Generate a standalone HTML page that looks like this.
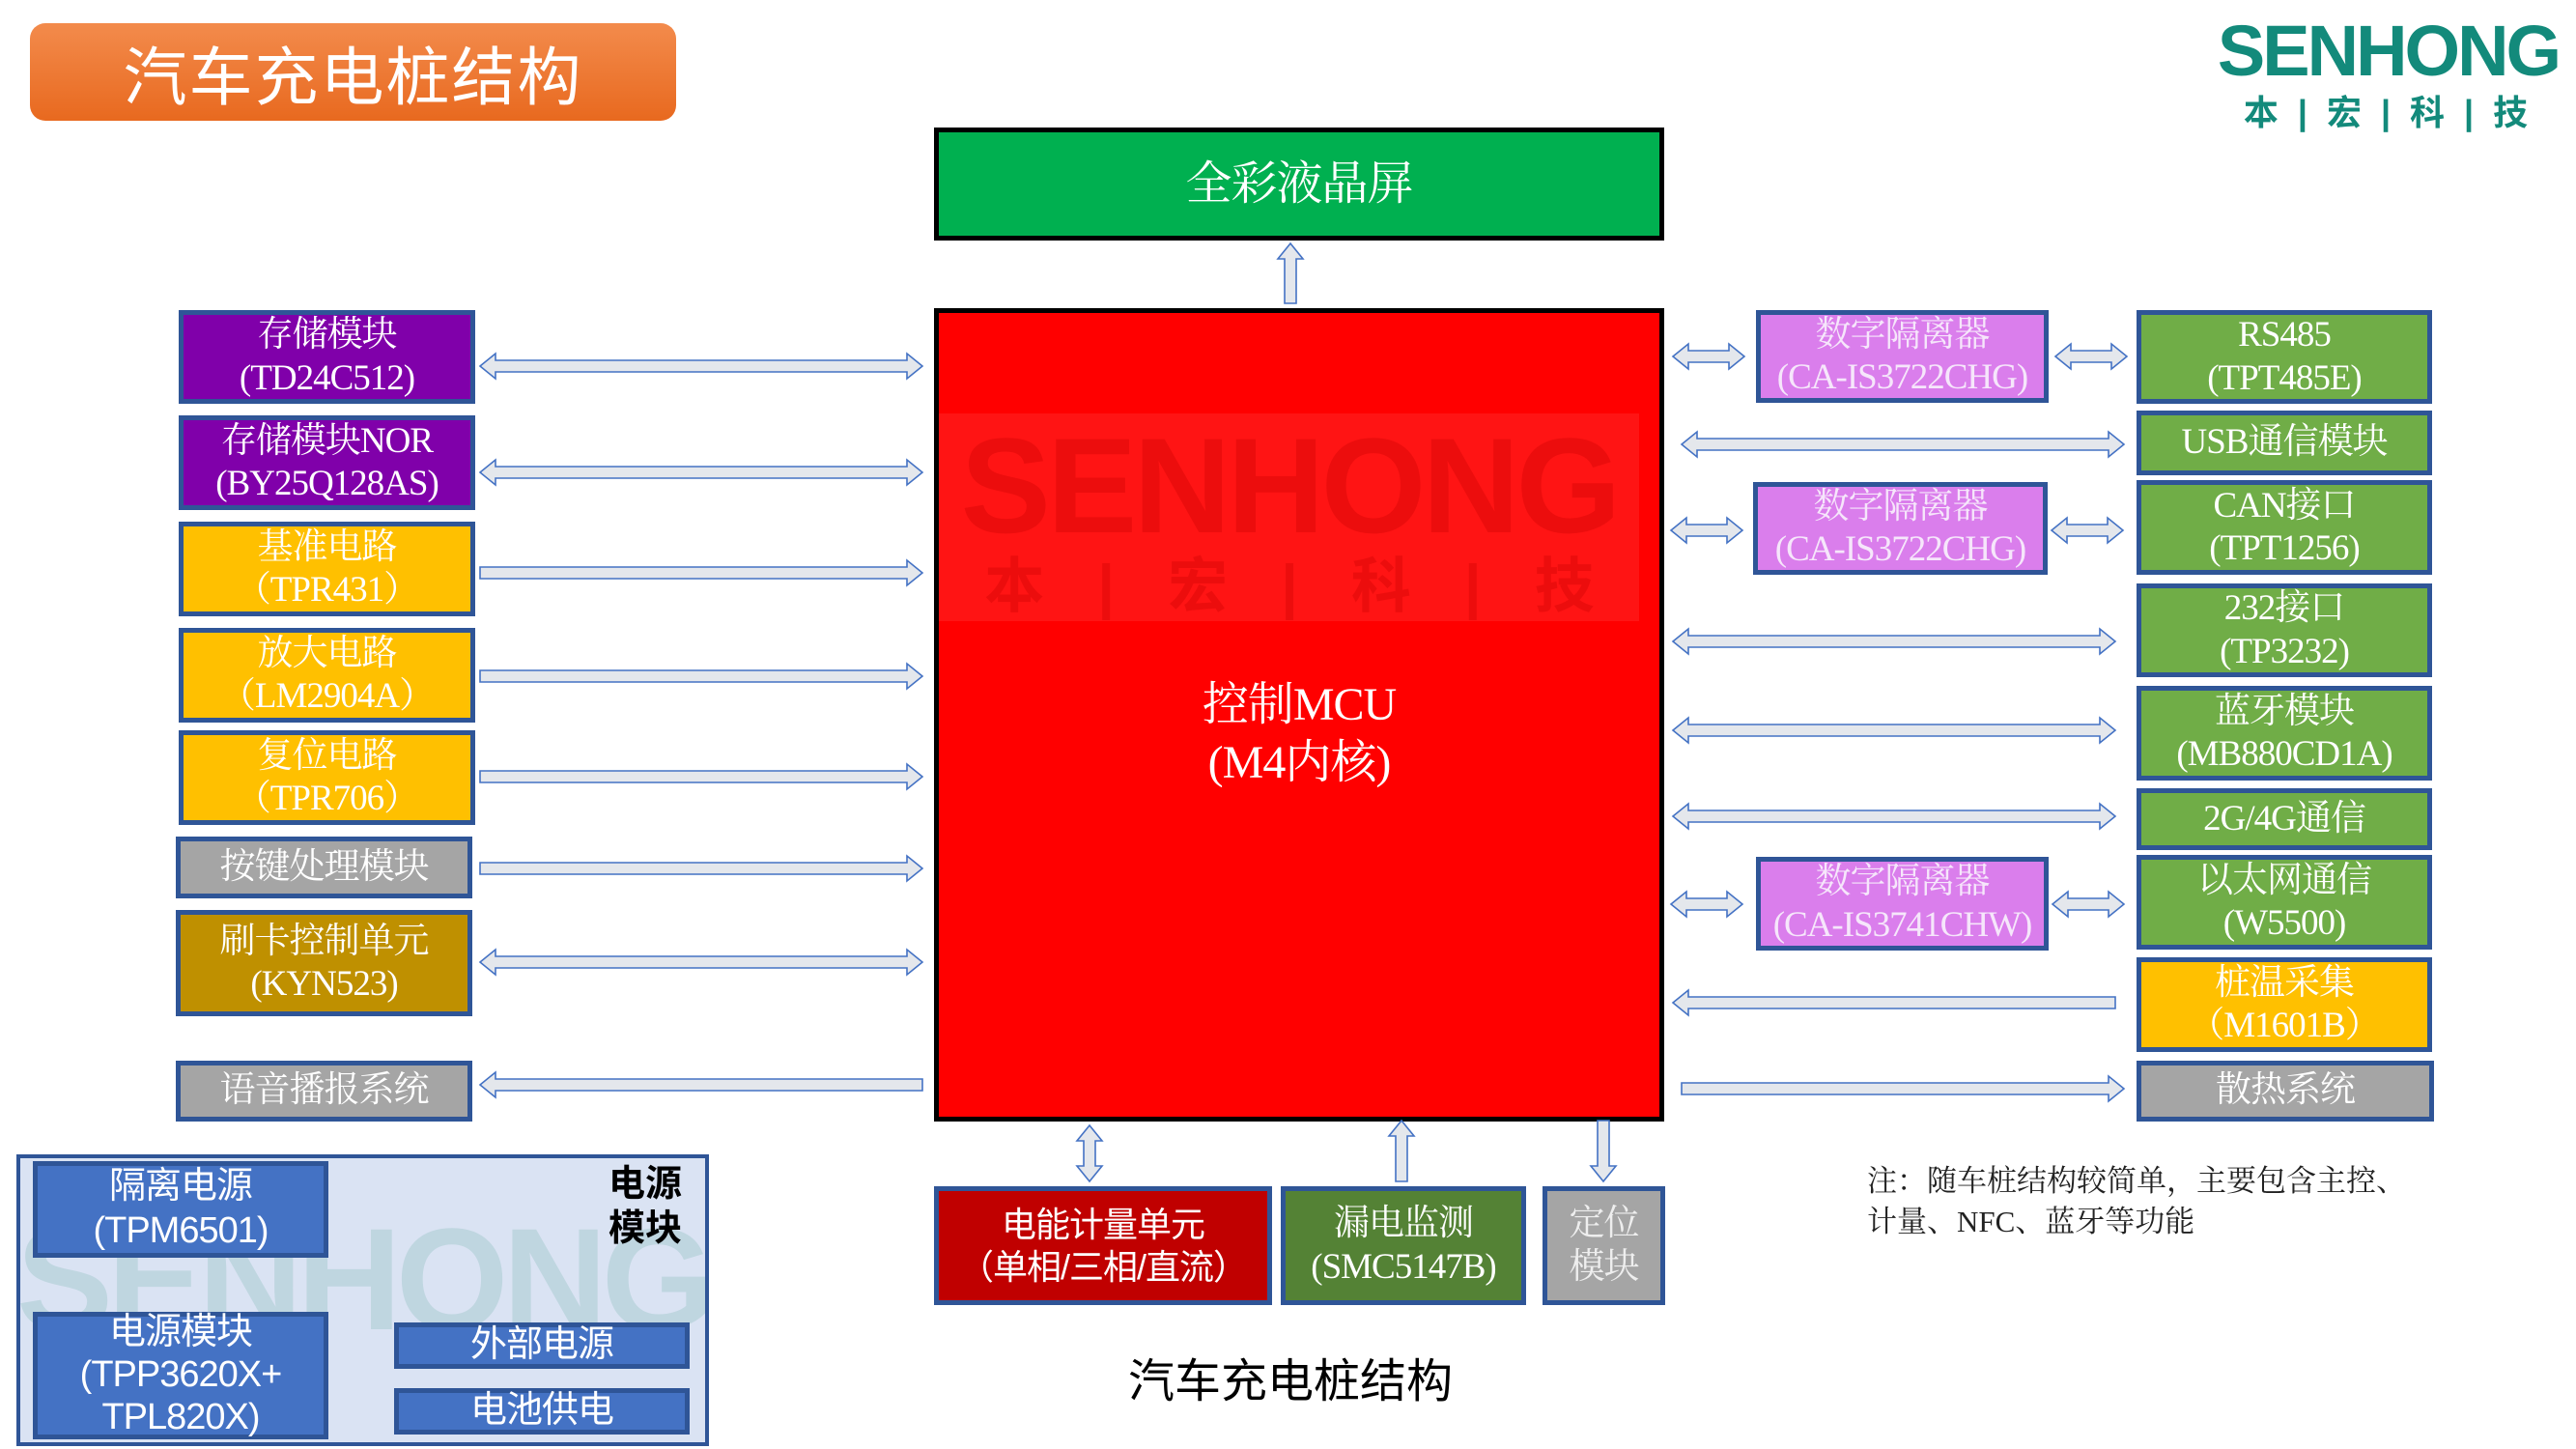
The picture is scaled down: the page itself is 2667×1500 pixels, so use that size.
<!DOCTYPE html>
<html><head><meta charset="utf-8">
<style>
*{margin:0;padding:0;box-sizing:border-box}
body{width:2667px;height:1500px;background:#fff;position:relative;overflow:hidden;font-family:"Liberation Serif","Noto Serif CJK SC",serif}
.b{position:absolute;display:flex;flex-direction:column;align-items:center;justify-content:center;text-align:center;color:#fff;border:5px solid #2F5597;font-size:37px;line-height:1.2;letter-spacing:-1px}
.p{background:#8000AA}
.y{background:#FFC000}
.g{background:#A5A5A5}
.k{background:#BF9000}
.gr{background:#70AD47}
.iso{background:#DA7EEC;color:#f6e6fb}
.bl{background:#4472C4;border-color:#2F5597;font-family:"Liberation Sans","Noto Sans CJK SC",sans-serif}
svg{position:absolute;left:0;top:0}
</style></head><body>
<div style="position:absolute;left:31px;top:24px;width:669px;height:101px;border-radius:16px;background:linear-gradient(#F38B4C,#E8691F);color:#fff;font-size:66px;display:flex;align-items:center;justify-content:center;font-family:'Liberation Sans','Noto Sans CJK SC',sans-serif;letter-spacing:2px">汽车充电桩结构</div>

<div style="position:absolute;left:2290px;top:16px;width:365px;text-align:center;color:#138A7B;font-family:'Liberation Sans','Noto Sans CJK SC',sans-serif;font-weight:bold;font-size:74px;line-height:74px;letter-spacing:-3px">SENHONG</div>
<div style="position:absolute;left:2300px;top:88px;width:340px;text-align:center;color:#138A7B;font-family:'Liberation Sans','Noto Sans CJK SC',sans-serif;font-weight:bold;font-size:36px;word-spacing:10px">本 | 宏 | 科 | 技</div>

<div class="b" style="left:967px;top:132px;width:756px;height:117px;background:#00B050;border-color:#000;font-size:48px">全彩液晶屏</div>

<div class="b" style="left:967px;top:319px;width:756px;height:842px;background:#FF0000;border-color:#000;font-size:48px">
<div style="position:absolute;left:0;top:104px;width:725px;height:215px;background:rgba(255,255,255,0.08);color:rgba(200,0,0,0.35);font-family:'Liberation Sans','Noto Sans CJK SC',sans-serif;font-weight:bold">
<div style="font-size:140px;line-height:150px;letter-spacing:-4px">SENHONG</div>
<div style="font-size:62px;line-height:60px;word-spacing:40px">本 | 宏 | 科 | 技</div></div>
<div style="position:relative;margin-top:40px;line-height:1.25">控制MCU<br>(M4内核)</div></div>

<div class="b p" style="left:185px;top:321px;width:307px;height:97px">存储模块<br>(TD24C512)</div>
<div class="b p" style="left:185px;top:430px;width:307px;height:98px">存储模块NOR<br>(BY25Q128AS)</div>
<div class="b y" style="left:185px;top:540px;width:307px;height:98px">基准电路<br>（TPR431）</div>
<div class="b y" style="left:185px;top:650px;width:307px;height:98px">放大电路<br>（LM2904A）</div>
<div class="b y" style="left:185px;top:756px;width:307px;height:98px">复位电路<br>（TPR706）</div>
<div class="b g" style="left:182px;top:866px;width:307px;height:64px">按键处理模块</div>
<div class="b k" style="left:182px;top:942px;width:307px;height:110px">刷卡控制单元<br>(KYN523)</div>
<div class="b g" style="left:182px;top:1098px;width:307px;height:63px">语音播报系统</div>

<div class="b gr" style="left:2212px;top:321px;width:306px;height:97px">RS485<br>(TPT485E)</div>
<div class="b gr" style="left:2212px;top:425px;width:306px;height:67px">USB通信模块</div>
<div class="b gr" style="left:2212px;top:497px;width:306px;height:98px">CAN接口<br>(TPT1256)</div>
<div class="b gr" style="left:2212px;top:604px;width:306px;height:97px">232接口<br>(TP3232)</div>
<div class="b gr" style="left:2212px;top:710px;width:306px;height:98px">蓝牙模块<br>(MB880CD1A)</div>
<div class="b gr" style="left:2212px;top:816px;width:306px;height:64px">2G/4G通信</div>
<div class="b gr" style="left:2212px;top:885px;width:306px;height:98px">以太网通信<br>(W5500)</div>
<div class="b y" style="left:2212px;top:991px;width:306px;height:98px">桩温采集<br>（M1601B）</div>
<div class="b g" style="left:2212px;top:1098px;width:308px;height:63px">散热系统</div>

<div class="b iso" style="left:1818px;top:321px;width:303px;height:96px">数字隔离器<br>(CA-IS3722CHG)</div>
<div class="b iso" style="left:1815px;top:499px;width:305px;height:96px">数字隔离器<br>(CA-IS3722CHG)</div>
<div class="b iso" style="left:1818px;top:887px;width:303px;height:97px">数字隔离器<br>(CA-IS3741CHW)</div>

<div class="b" style="left:967px;top:1228px;width:350px;height:123px;background:#C00000;font-family:'Liberation Sans','Noto Sans CJK SC',sans-serif;font-size:36px">电能计量单元<br>（单相/三相/直流）</div>
<div class="b" style="left:1326px;top:1228px;width:254px;height:123px;background:#548235">漏电监测<br>(SMC5147B)</div>
<div class="b g" style="left:1597px;top:1228px;width:127px;height:123px;color:#eee">定位<br>模块</div>

<div style="position:absolute;left:1136px;top:1390px;width:400px;text-align:center;font-size:48px;font-family:'Liberation Sans','Noto Sans CJK SC',sans-serif">汽车充电桩结构</div>
<div style="position:absolute;left:1933px;top:1202px;font-size:31px;line-height:42px;color:#222">注：随车桩结构较简单，主要包含主控、<br>计量、NFC、蓝牙等功能</div>

<div style="position:absolute;left:17px;top:1195px;width:717px;height:302px;background:#DAE3F3;border:4px solid #2F5597;overflow:hidden">
<div style="position:absolute;left:-4px;top:50px;width:730px;font-size:150px;line-height:150px;font-weight:bold;color:rgba(140,190,190,0.35);font-family:'Liberation Sans',sans-serif;letter-spacing:-6px;white-space:nowrap">SENHONG</div></div>
<div class="b bl" style="left:34px;top:1202px;width:306px;height:100px;font-size:38px">隔离电源<br>(TPM6501)</div>
<div class="b bl" style="left:34px;top:1358px;width:306px;height:132px;font-size:38px;line-height:1.15">电源模块<br>(TPP3620X+<br>TPL820X)</div>
<div class="b bl" style="left:408px;top:1369px;width:306px;height:48px;font-size:38px">外部电源</div>
<div class="b bl" style="left:408px;top:1437px;width:306px;height:48px;font-size:38px">电池供电</div>
<div style="position:absolute;left:630px;top:1203px;font-size:38px;line-height:46px;font-weight:bold;font-family:'Liberation Sans','Noto Sans CJK SC',sans-serif">电源<br>模块</div>

<svg width="2667" height="1500" id="s"></svg>
<script>
var s=document.getElementById('s'),ns='http://www.w3.org/2000/svg';
function P(pts){var p=document.createElementNS(ns,'polygon');p.setAttribute('points',pts.map(function(a){return a.join(',')}).join(' '));p.setAttribute('fill','#E4E7EC');p.setAttribute('stroke','#4472C4');p.setAttribute('stroke-width','1.6');s.appendChild(p);}
var t=6,h=13,L=16;
function H(x1,x2,y,l,r){var pts=[];
 if(l){pts.push([x1,y],[x1+L,y-h],[x1+L,y-t]);}else pts.push([x1,y-t]);
 if(r){pts.push([x2-L,y-t],[x2-L,y-h],[x2,y],[x2-L,y+h],[x2-L,y+t]);}else pts.push([x2,y-t],[x2,y+t]);
 if(l){pts.push([x1+L,y+t],[x1+L,y+h]);}else pts.push([x1,y+t]);
 P(pts);}
function V(x,y1,y2,u,d){var pts=[];
 if(u){pts.push([x,y1],[x+h,y1+L],[x+t,y1+L]);}else pts.push([x+t,y1]);
 if(d){pts.push([x+t,y2-L],[x+h,y2-L],[x,y2],[x-h,y2-L],[x-t,y2-L]);}else pts.push([x+t,y2],[x-t,y2]);
 if(u){pts.push([x-t,y1+L],[x-h,y1+L]);}else pts.push([x-t,y1]);
 P(pts);}
H(497,955,379,1,1);H(497,955,489,1,1);H(497,955,593,0,1);H(497,955,700,0,1);H(497,955,804,0,1);H(497,955,899,0,1);H(497,955,996,1,1);H(497,955,1123,1,0);
H(1732,1806,369,1,1);H(2128,2202,369,1,1);
H(1741,2199,460,1,1);
H(1730,1804,549,1,1);H(2124,2198,549,1,1);
H(1732,2190,664,1,1);H(1732,2190,756,1,1);H(1732,2190,845,1,1);
H(1730,1804,936,1,1);H(2125,2199,936,1,1);
H(1732,2190,1038,1,0);H(1741,2199,1127,0,1);
V(1336,252,314,1,0);
V(1128,1165,1223,1,1);V(1451,1160,1223,1,0);V(1660,1160,1223,0,1);
</script>
</body></html>
